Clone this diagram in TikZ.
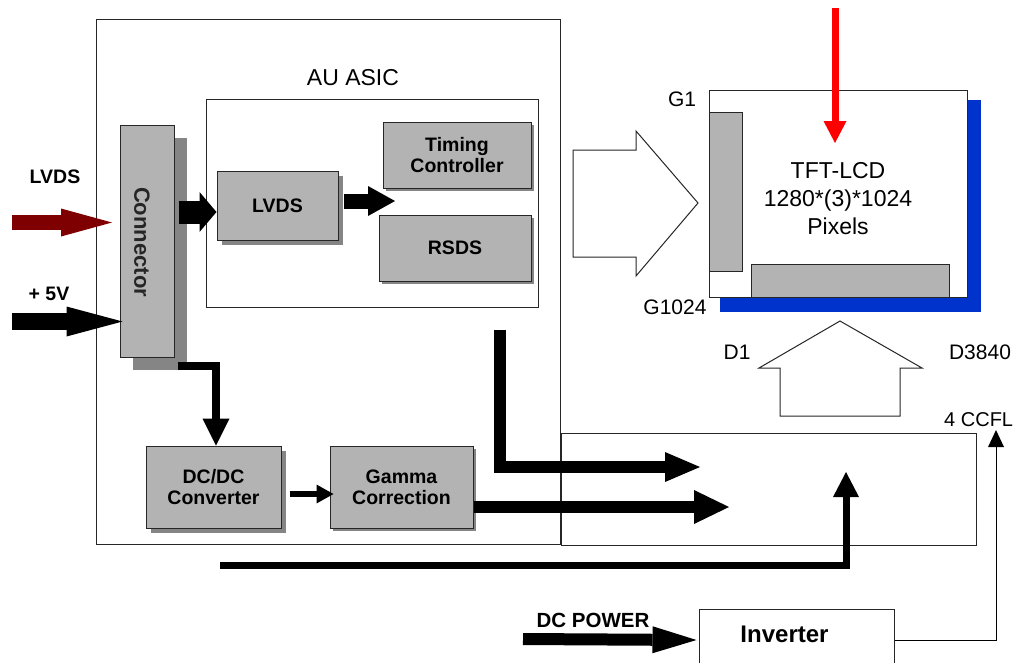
\documentclass[tikz,border=0pt]{standalone}
\usepackage{fontspec}
\setmainfont{Liberation Sans}
\usetikzlibrary{arrows.meta, calc, shadows}

\definecolor{boxgray}{HTML}{B3B3B3}
\definecolor{shadowgray}{HTML}{858585}
\definecolor{panelblue}{HTML}{0033CC}
\definecolor{lvdsred}{HTML}{7F0000}
\newcommand{\pxfont}[2]{\fontsize{#1}{#2}\selectfont}

\begin{document}
\begin{tikzpicture}[
    x=1pt, y=-1pt,
    block/.style={draw=black!85, fill=boxgray, line width=1pt, align=center, inner sep=0pt, font=\pxfont{19.5}{21}\bfseries},
    shade/.style={general shadow={fill=shadowgray, shadow xshift=#1, shadow yshift=-#1}},
    frame/.style={draw=black!85, line width=1pt, inner sep=0pt},
    tag/.style={font=\pxfont{21}{24}},
    bus/.style={line width=#1, line join=miter},
    hollow/.style={draw=black!85, line width=1pt, fill=white}
]
\useasboundingbox (0,0) rectangle (1016,662);

% Frames
\draw[frame] (96,19) rectangle (560,544);
\draw[frame] (206,99) rectangle (538,307);
\node[tag, font=\pxfont{23}{24}] (asic) at (353,78) {AU ASIC};
\node[frame, minimum width=415pt, minimum height=112pt] (lamp) at (768.5,489) {};
\node[frame, minimum width=195pt, minimum height=62pt] (inv) at (796.5,640) {};
\node[font=\pxfont{24}{26}\bfseries] at ($(inv)+(-12,-6)$) {Inverter};

% Gray blocks
\node[block, shade=13pt, minimum width=54pt, minimum height=232pt] (conn) at (147,241) {};
\node[rotate=-90, font=\pxfont{22}{24}\bfseries, text=black!85] at (142,242) {Connector};
\node[block, shade=5pt, minimum width=121pt, minimum height=69pt] (lvds) at (277.5,205.5) {LVDS};
\node[block, shade=3pt, minimum width=148pt, minimum height=66pt] (tcon) at (457,155) {Timing\\Controller};
\node[block, shade=3pt, minimum width=152pt, minimum height=66pt] (rsds) at (455,248) {RSDS};
\node[block, shade=5pt, minimum width=135pt, minimum height=82pt] (dcdc) at (213.5,487) {DC/DC\\Converter};
\node[block, shade=3pt, minimum width=143pt, minimum height=82pt] (gamma) at (401.5,487) {Gamma\\Correction};

% Panel
\fill[panelblue] (720,100) rectangle (981,312);
\node[frame, fill=white, minimum width=258pt, minimum height=207pt] (panel) at (838,193.5) {};
\node[frame, fill=boxgray, minimum width=33pt, minimum height=159pt] (gdrv) at (725.5,191.5) {};
\node[frame, fill=boxgray, minimum width=198pt, minimum height=33pt] (sdrv) at (850,280.5) {};
\node[align=center, font=\pxfont{23}{28}] (tft) at (838,199) {TFT-LCD\\1280*(3)*1024\\Pixels};

% Labels
\node[font=\pxfont{19.5}{21}\bfseries] (lvdslbl) at (55,177) {LVDS};
\node[font=\pxfont{19.5}{21}\bfseries] (vlbl) at (49,294) {+ 5V};
\node[font=\pxfont{20.5}{22}\bfseries] (dclbl) at (593,620) {DC POWER};
\node[tag] (g1) at (682,99) {G1};
\node[tag] (gn) at (675,307) {G1024};
\node[tag] (d1) at (737,352) {D1};
\node[tag] (dn) at (980,352) {D3840};
\node[tag, font=\pxfont{20}{22}, anchor=west, inner sep=1pt] (ccfl) at (943,420) {4 CCFL};

% Hollow arrows
\draw[hollow] (573,150) -- (636,150) -- (636,131) -- (698,203) -- (636,276) -- (636,257) -- (573,257) -- cycle;
\draw[hollow] (840,321) -- (922,368) -- (900,368) -- (900,416) -- (780,416) -- (780,368) -- (759,368) -- cycle;

% Free ends
\coordinate (lvdsin) at (12,222.5);
\coordinate (lvdstip) at (112,222.5);
\coordinate (vin) at (12,321.5);
\coordinate (split) at (395,201);
\coordinate (busA) at (500,330);
\coordinate (busAend) at (700,467);
\coordinate (busB) at (729,507);
\coordinate (busC) at (220,565);
\coordinate (busCend) at (846,472);
\coordinate (dcin) at (523,639);
\coordinate (lamptip) at (996,430);
\coordinate (light) at (835,8);
\coordinate (lighttip) at (835,143);

% Inputs
\draw[bus=15pt, lvdsred, -{Triangle[length=51pt, width=28pt, line width=0pt]}] (lvdsin) -- (lvdstip);
\draw[bus=17pt, -{Triangle[length=56pt, width=30pt, line width=0pt]}] (vin) -- ($(conn.west |- vin)+(3,0)$);
\draw[bus=7pt, red, -{Triangle[length=22pt, width=23pt, line width=0pt]}] (light) -- (lighttip);
\draw[bus=12pt, -{Triangle[length=44pt, width=27pt, line width=0pt]}] (dcin) -- ($(inv.west)+(-2,0)$);

% ASIC paths
\draw[bus=23pt, -{Triangle[length=17pt, width=40pt, line width=0pt]}] ($(conn.east |- lvds)+(4,6.5)$) -- ($(lvds.west)+(0,6.5)$);
\draw[bus=15pt, -{Triangle[length=27pt, width=30pt, line width=0pt]}] ($(lvds.east |- split)+(5,0)$) -- (split);
\draw[bus=8pt, -{Triangle[length=27pt, width=27pt, line width=0pt]}] ($(conn.south east)+(3,8)$) -| ($(dcdc.north)+(2.5,0)$);
\draw[bus=6pt, -{Triangle[length=17pt, width=19pt, line width=0pt]}] ($(dcdc.east)+(8,7)$) -- ($(gamma.west)+(4,7)$);

% Outputs
\draw[bus=12pt, -{Triangle[length=35pt, width=30pt, line width=0pt]}] (busA) |- (busAend);
\draw[bus=12pt, -{Triangle[length=35pt, width=34pt, line width=0pt]}] ($(gamma.east)+(0,20)$) -- (busB);
\draw[bus=7pt, -{Triangle[length=25pt, width=26pt, line width=0pt]}] (busC) -| (busCend);
\draw[line width=1pt, -{Triangle[length=17pt, width=16pt, line width=0pt]}] (inv.east) -| (lamptip);

\end{tikzpicture}
\end{document}
